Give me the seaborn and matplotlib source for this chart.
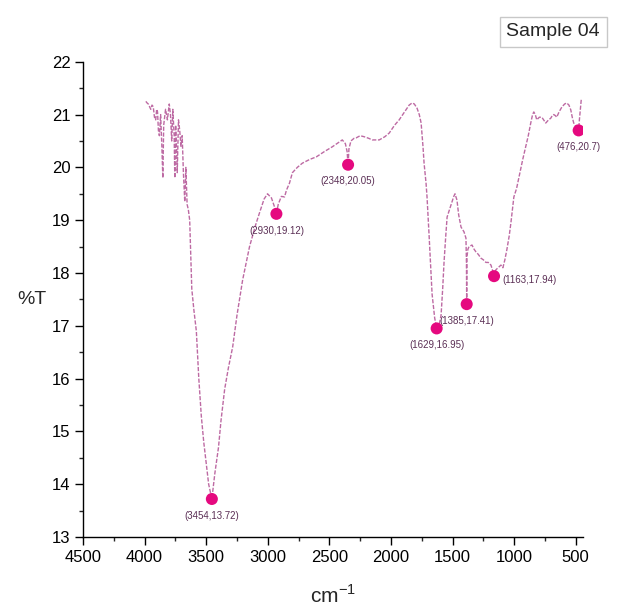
import numpy as np
import pandas as pd
import matplotlib
matplotlib.use("Agg")
import matplotlib.pyplot as plt
from matplotlib.ticker import MultipleLocator
import seaborn as sns

# ---- data ----
wavenumber = [3990, 3980, 3970, 3960, 3950, 3940, 3930, 3920, 3910, 3902, 3895, 3888, 3880, 3870,
              3860, 3852, 3845, 3830, 3815, 3800, 3790, 3780, 3771, 3760, 3755, 3748, 3740, 3735,
              3725, 3715, 3705, 3695, 3685, 3674, 3665, 3655, 3645, 3634, 3625, 3617, 3600, 3580,
              3560, 3540, 3520, 3500, 3480, 3454, 3430, 3400, 3380, 3350, 3320, 3285, 3250, 3204,
              3148, 3100, 3067, 3030, 3002, 2970, 2945, 2930, 2915, 2890, 2864, 2848, 2824, 2800,
              2760, 2719, 2660, 2605, 2540, 2476, 2420, 2395, 2370, 2356, 2348, 2341, 2325, 2300,
              2281, 2250, 2217, 2180, 2152, 2095, 2050, 2014, 1970, 1933, 1890, 1852, 1828, 1810,
              1788, 1770, 1755, 1740, 1731, 1715, 1707, 1690, 1666, 1645, 1629, 1610, 1593, 1580,
              1569, 1555, 1544, 1512, 1490, 1480, 1464, 1450, 1431, 1407, 1391, 1387, 1385, 1383,
              1375, 1366, 1342, 1325, 1310, 1290, 1269, 1250, 1229, 1210, 1188, 1175, 1163, 1148,
              1130, 1107, 1091, 1075, 1059, 1040, 1026, 1002, 980, 962, 930, 905, 885, 865, 850,
              840, 828, 816, 795, 775, 760, 743, 720, 703, 690, 678, 665, 654, 635, 613, 590, 573,
              555, 540, 528, 516, 500, 490, 482, 476, 470, 462, 455]
transmittance = [21.25, 21.22, 21.2, 21.15, 21.1, 21.18, 21.15, 20.95, 20.9, 21.1, 21.05, 20.7, 20.6,
                 21.0, 20.4, 19.8, 20.8, 21.1, 20.9, 21.2, 21.0, 20.5, 21.1, 20.6, 19.8, 20.8, 20.3,
                 19.9, 20.9, 20.7, 20.4, 20.6, 19.9, 19.35, 20.0, 19.3, 19.2, 19.0, 18.3, 17.7, 17.3,
                 16.9, 16.0, 15.3, 14.8, 14.4, 14.0, 13.72, 14.2, 14.7, 15.2, 15.8, 16.2, 16.6, 17.2,
                 17.87, 18.5, 18.9, 19.14, 19.4, 19.5, 19.42, 19.25, 19.12, 19.3, 19.45, 19.44, 19.57,
                 19.7, 19.9, 20.0, 20.08, 20.15, 20.2, 20.3, 20.39, 20.48, 20.52, 20.45, 20.3, 20.05,
                 20.35, 20.5, 20.55, 20.56, 20.6, 20.58, 20.55, 20.52, 20.52, 20.58, 20.65, 20.8, 20.9,
                 21.05, 21.18, 21.22, 21.2, 21.12, 21.0, 20.84, 20.4, 20.08, 19.7, 19.44, 18.7, 17.6,
                 17.15, 16.95, 17.0, 17.2, 17.7, 18.2, 18.7, 19.06, 19.29, 19.45, 19.5, 19.38, 19.1,
                 18.87, 18.78, 18.66, 18.2, 17.41, 18.3, 18.45, 18.5, 18.53, 18.45, 18.4, 18.35, 18.28,
                 18.25, 18.2, 18.2, 18.15, 18.05, 17.94, 18.06, 18.1, 18.15, 18.1, 18.25, 18.44, 18.7,
                 18.95, 19.44, 19.6, 19.8, 20.15, 20.4, 20.6, 20.84, 21.0, 21.05, 21.0, 20.9, 20.95,
                 20.95, 20.9, 20.84, 20.9, 20.93, 20.98, 21.0, 20.98, 20.95, 21.05, 21.14, 21.2, 21.22,
                 21.18, 21.09, 20.95, 20.84, 20.78, 20.8, 20.72, 20.7, 20.9, 21.1, 21.28]

peak_wn = [3454, 2930, 2348, 1629, 1385, 1163, 476]
peak_t = [13.72, 19.12, 20.05, 16.95, 17.41, 17.94, 20.7]
peak_labels = ["(3454,13.72)", "(2930,19.12)", "(2348,20.05)", "(1629,16.95)",
               "(1385,17.41)", "(1163,17.94)", "(476,20.7)"]

x_ticks = [4500, 4000, 3500, 3000, 2500, 2000, 1500, 1000, 500]
y_ticks = [13, 14, 15, 16, 17, 18, 19, 20, 21, 22]

spectrum = pd.DataFrame({"wn": wavenumber, "T": transmittance})
peaks = pd.DataFrame({"wn": peak_wn, "T": peak_t, "label": peak_labels})

sns.set_style("ticks")
plt.rcParams["font.family"] = ["Liberation Sans", "DejaVu Sans"]
plt.rcParams["mathtext.fontset"] = "custom"
plt.rcParams["mathtext.rm"] = "Liberation Sans"

fig = plt.figure(figsize=(6.29, 6.14), dpi=100)
ax = fig.add_axes([0.132, 0.1254, 0.795, 0.774])

sns.lineplot(data=spectrum, x="wn", y="T", sort=False, ax=ax, color="#bd6aa3",
             linewidth=1.0, linestyle=(0, (3, 1.2)), estimator=None)
sns.scatterplot(data=peaks, x="wn", y="T", ax=ax, color="#e5097f", s=75,
                edgecolor="none", zorder=5)

# label offsets (points) relative to each marker
offsets = {"(1163,17.94)": (6, -3, "left")}
for w, t, lab in zip(peak_wn, peak_t, peak_labels):
    dx, dy, ha = offsets.get(lab, (0, -12, "center"))
    ax.annotate(lab, (w, t), xytext=(dx, dy), textcoords="offset points",
                ha=ha, va="center", fontsize=7, color="#5b2f55")

ax.set_xlim(4500, 440)
ax.set_ylim(13, 22)
ax.set_xticks(x_ticks)
ax.set_yticks(y_ticks)
ax.xaxis.set_minor_locator(MultipleLocator(250))
ax.yaxis.set_minor_locator(MultipleLocator(0.5))
ax.tick_params(axis="both", which="major", direction="out", length=6, width=1,
               labelsize=12, colors="black", pad=3)
ax.tick_params(axis="both", which="minor", direction="out", length=3, width=1)
sns.despine(ax=ax)
for s in ["left", "bottom"]:
    ax.spines[s].set_color("black")
    ax.spines[s].set_linewidth(1.0)

ax.set_xlabel(r"cm$^{-1}$", fontsize=15, labelpad=14)
ax.set_ylabel("%T", fontsize=14, rotation=0, labelpad=14, va="center")

fig.text(0.805, 0.948, "Sample 04", fontsize=14, ha="left", va="center",
         bbox=dict(boxstyle="square,pad=0.35", facecolor="white", edgecolor="#c8c8c8",
                   linewidth=1))

fig.savefig("out.png", dpi=100)
